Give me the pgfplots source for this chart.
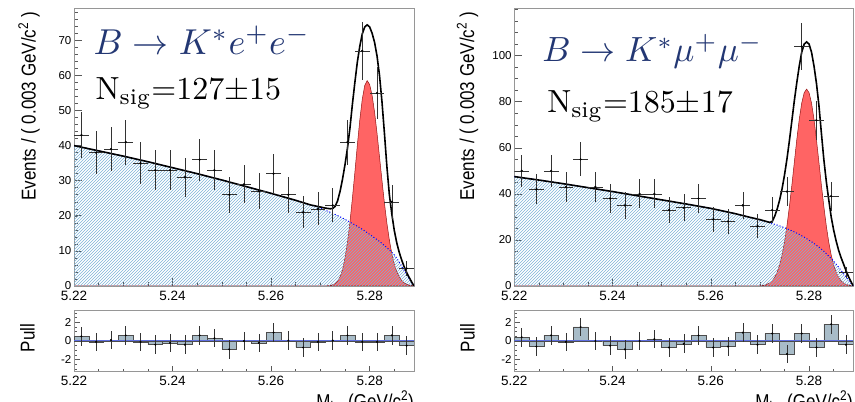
\documentclass[border=0pt]{standalone}
\usepackage{fontspec}
\usepackage{pgfplots}
\pgfplotsset{compat=1.18}
\usepackage{pgfplotstable}
\usetikzlibrary{patterns}
\newfontfamily\arial{Liberation Sans}
\definecolor{sigred}{RGB}{255,100,100}
\definecolor{sigdark}{RGB}{150,20,20}
\definecolor{hatchblue}{RGB}{125,178,215}
\definecolor{pullfill}{RGB}{168,188,200}
\definecolor{pullline}{RGB}{95,110,225}
\definecolor{titleblue}{RGB}{35,55,115}
\definecolor{framegray}{RGB}{150,150,150}

\pgfplotstableread[row sep=\\]{x y\\
5.2200 40.0\\ 5.2250 38.5\\ 5.2300 37.0\\ 5.2350 35.4\\ 5.2400 33.7\\ 5.2450 32.0\\ 5.2500 30.2\\ 5.2550 28.3\\ 5.2600 26.4\\ 5.2650 24.4\\ 5.2680 23.1\\ 5.2700 22.2\\ 5.2710 21.6\\ 5.2720 21.0\\ 5.2730 20.4\\ 5.2740 19.7\\ 5.2750 19.0\\ 5.2760 18.2\\ 5.2770 17.4\\ 5.2780 16.6\\ 5.2790 15.7\\ 5.2800 14.7\\ 5.2810 13.7\\ 5.2820 12.7\\ 5.2830 11.5\\ 5.2840 10.3\\ 5.2850 8.9\\ 5.2855 7.9\\ 5.2860 6.8\\ 5.2865 5.7\\ 5.2870 4.5\\ 5.2875 3.3\\ 5.2880 2.1\\ 5.2885 1.0\\ 5.2890 0.0\\
}\bkgL

\pgfplotstableread[row sep=\\]{x y\\
5.2200 40.0\\ 5.2250 38.5\\ 5.2300 37.0\\ 5.2350 35.4\\ 5.2400 33.7\\ 5.2450 32.0\\ 5.2500 30.2\\ 5.2550 28.3\\ 5.2600 26.4\\ 5.2650 24.4\\ 5.2680 23.1\\
5.2700 22.5\\ 5.2710 22.2\\ 5.2720 22.0\\ 5.2725 22.1\\ 5.2730 22.7\\ 5.2735 24.3\\ 5.2740 27.0\\ 5.2745 30.5\\ 5.2750 34.6\\ 5.2755 39.3\\ 5.2760 45.0\\ 5.2765 51.8\\ 5.2770 58.0\\ 5.2775 63.8\\ 5.2780 68.3\\ 5.2785 71.8\\ 5.2790 73.8\\ 5.2795 74.4\\ 5.2800 73.8\\ 5.2805 72.0\\ 5.2810 69.4\\ 5.2815 65.5\\ 5.2820 60.0\\ 5.2825 52.5\\ 5.2830 43.5\\ 5.2835 34.0\\ 5.2840 26.0\\ 5.2845 20.5\\ 5.2850 15.8\\ 5.2855 12.3\\ 5.2860 9.6\\ 5.2865 7.4\\ 5.2870 5.5\\ 5.2875 3.9\\ 5.2880 2.5\\ 5.2885 1.2\\ 5.2890 0.0\\
}\totL

\pgfplotstableread[row sep=\\]{x y\\
5.2200 0\\ 5.2690 0\\ 5.2700 0.01\\ 5.2710 0.04\\ 5.2720 0.15\\ 5.2725 0.35\\ 5.2730 0.7\\ 5.2735 1.4\\ 5.2740 2.6\\ 5.2745 4.6\\ 5.2750 8.0\\ 5.2755 12.5\\ 5.2760 18.2\\ 5.2765 25.0\\ 5.2770 32.4\\ 5.2775 40.1\\ 5.2780 47.3\\ 5.2785 53.2\\ 5.2790 57.1\\ 5.2795 58.5\\ 5.2800 57.4\\ 5.2805 54.3\\ 5.2810 49.5\\ 5.2815 43.5\\ 5.2820 36.8\\ 5.2825 30.1\\ 5.2830 23.6\\ 5.2835 17.9\\ 5.2840 13.1\\ 5.2845 9.2\\ 5.2850 6.2\\ 5.2855 4.1\\ 5.2860 2.6\\ 5.2865 1.6\\ 5.2870 0.9\\ 5.2875 0.5\\ 5.2880 0.3\\ 5.2885 0.15\\ 5.2890 0.07\\
}\sigL

\pgfplotstableread[row sep=\\]{x y ex ey\\
5.2215 43 0.0015 6.56\\ 5.2245 38 0.0015 6.16\\ 5.2275 39 0.0015 6.24\\ 5.2305 41 0.0015 6.40\\ 5.2335 35 0.0015 5.92\\ 5.2365 33 0.0015 5.74\\ 5.2395 33 0.0015 5.74\\ 5.2425 31 0.0015 5.57\\ 5.2455 36 0.0015 6.00\\ 5.2485 33 0.0015 5.74\\ 5.2515 26 0.0015 5.10\\ 5.2545 29 0.0015 5.39\\ 5.2575 27 0.0015 5.20\\ 5.2605 32 0.0015 5.66\\ 5.2635 26 0.0015 5.10\\ 5.2665 21 0.0015 4.58\\ 5.2695 22 0.0015 4.69\\ 5.2725 23 0.0015 4.80\\ 5.2755 41 0.0015 6.40\\ 5.2785 67 0.0015 8.19\\ 5.2815 55 0.0015 7.42\\ 5.2845 24 0.0015 4.90\\ 5.2875 5 0.0015 2.24\\
}\datL

\pgfplotstableread[row sep=\\]{x y\\
5.2215 0.5\\ 5.2245 -0.1\\ 5.2275 0.1\\ 5.2305 0.6\\ 5.2335 -0.1\\ 5.2365 -0.4\\ 5.2395 -0.2\\ 5.2425 -0.4\\ 5.2455 0.6\\ 5.2485 0.3\\ 5.2515 -0.9\\ 5.2545 0.0\\ 5.2575 -0.2\\ 5.2605 0.9\\ 5.2635 0.05\\ 5.2665 -0.7\\ 5.2695 -0.1\\ 5.2725 0.05\\ 5.2755 0.6\\ 5.2785 -0.1\\ 5.2815 -0.1\\ 5.2845 0.6\\ 5.2875 -0.5\\
}\pullL

\pgfplotstableread[row sep=\\]{x y\\
5.2200 47.5\\ 5.2250 46.0\\ 5.2300 44.4\\ 5.2350 42.7\\ 5.2400 41.0\\ 5.2450 39.2\\ 5.2500 37.4\\ 5.2550 35.6\\ 5.2600 33.7\\ 5.2650 31.4\\ 5.2680 29.8\\ 5.2700 28.7\\ 5.2710 28.1\\ 5.2720 27.5\\ 5.2730 26.8\\ 5.2740 26.1\\ 5.2750 25.3\\ 5.2760 24.4\\ 5.2770 23.5\\ 5.2780 22.4\\ 5.2790 21.2\\ 5.2800 19.9\\ 5.2810 18.5\\ 5.2820 16.9\\ 5.2830 15.1\\ 5.2840 13.0\\ 5.2850 10.8\\ 5.2860 8.2\\ 5.2870 5.4\\ 5.2880 2.6\\ 5.2890 0.0\\
}\bkgR

\pgfplotstableread[row sep=\\]{x y\\
5.2200 47.5\\ 5.2250 46.0\\ 5.2300 44.4\\ 5.2350 42.7\\ 5.2400 41.0\\ 5.2450 39.2\\ 5.2500 37.4\\ 5.2550 35.6\\ 5.2600 33.7\\ 5.2650 31.4\\ 5.2680 29.8\\
5.2700 28.8\\ 5.2710 28.2\\ 5.2720 27.6\\ 5.2725 28.0\\ 5.2730 30.3\\ 5.2735 33.4\\ 5.2740 37.3\\ 5.2745 42.2\\ 5.2750 48.2\\ 5.2755 55.2\\ 5.2760 63.2\\ 5.2765 71.8\\ 5.2770 80.5\\ 5.2775 88.3\\ 5.2780 95.5\\ 5.2785 101.5\\ 5.2790 105.0\\ 5.2795 106.0\\ 5.2800 105.0\\ 5.2805 101.5\\ 5.2810 95.5\\ 5.2815 88.0\\ 5.2820 78.5\\ 5.2825 66.5\\ 5.2830 55.0\\ 5.2835 45.5\\ 5.2840 37.5\\ 5.2845 30.0\\ 5.2850 24.3\\ 5.2855 19.6\\ 5.2860 15.6\\ 5.2865 12.4\\ 5.2870 9.6\\ 5.2875 6.8\\ 5.2880 4.2\\ 5.2885 2.0\\ 5.2890 0.0\\
}\totR

\pgfplotstableread[row sep=\\]{x y\\
5.2200 0\\ 5.2680 0\\ 5.2700 0.11\\ 5.2710 0.41\\ 5.2720 1.33\\ 5.2725 2.28\\ 5.2730 3.75\\ 5.2735 5.97\\ 5.2740 9.12\\ 5.2745 13.5\\ 5.2750 19.1\\ 5.2755 26.2\\ 5.2760 34.6\\ 5.2765 43.9\\ 5.2770 53.8\\ 5.2775 63.6\\ 5.2780 72.4\\ 5.2785 79.4\\ 5.2790 83.9\\ 5.2795 85.5\\ 5.2800 83.9\\ 5.2805 79.4\\ 5.2810 72.4\\ 5.2815 63.6\\ 5.2820 53.8\\ 5.2825 43.9\\ 5.2830 34.6\\ 5.2835 26.2\\ 5.2840 19.1\\ 5.2845 13.5\\ 5.2850 9.12\\ 5.2855 5.97\\ 5.2860 3.75\\ 5.2865 2.28\\ 5.2870 1.33\\ 5.2875 0.75\\ 5.2880 0.41\\ 5.2885 0.21\\ 5.2890 0.11\\
}\sigR

\pgfplotstableread[row sep=\\]{x y ex ey\\
5.2215 50 0.0015 7.07\\ 5.2245 42 0.0015 6.48\\ 5.2275 50 0.0015 7.07\\ 5.2305 43 0.0015 6.56\\ 5.2335 55 0.0015 7.42\\ 5.2365 43 0.0015 6.56\\ 5.2395 38 0.0015 6.16\\ 5.2425 35 0.0015 5.92\\ 5.2455 40 0.0015 6.32\\ 5.2485 40 0.0015 6.32\\ 5.2515 33 0.0015 5.74\\ 5.2545 34 0.0015 5.83\\ 5.2575 38 0.0015 6.16\\ 5.2605 29 0.0015 5.39\\ 5.2635 28 0.0015 5.29\\ 5.2665 35 0.0015 5.92\\ 5.2695 26 0.0015 5.10\\ 5.2725 33 0.0015 5.74\\ 5.2755 41 0.0015 6.40\\ 5.2785 104 0.0015 10.20\\ 5.2815 72 0.0015 8.49\\ 5.2845 39 0.0015 6.24\\ 5.2875 6 0.0015 2.45\\
}\datR

\pgfplotstableread[row sep=\\]{x y\\
5.2215 0.4\\ 5.2245 -0.6\\ 5.2275 0.6\\ 5.2305 -0.1\\ 5.2335 1.5\\ 5.2365 0.0\\ 5.2395 -0.5\\ 5.2425 -0.9\\ 5.2455 0.0\\ 5.2485 0.2\\ 5.2515 -0.7\\ 5.2545 -0.3\\ 5.2575 0.6\\ 5.2605 -0.7\\ 5.2635 -0.6\\ 5.2665 0.9\\ 5.2695 -0.4\\ 5.2725 0.8\\ 5.2755 -1.4\\ 5.2785 0.8\\ 5.2815 -0.7\\ 5.2845 1.8\\ 5.2875 -0.4\\
}\pullR

\pgfplotsset{
  rootstyle/.style={
    scale only axis, xmin=5.22, xmax=5.289, tick align=inside, tick pos=left,
    xtick={5.22,5.24,5.26,5.28}, xticklabels={5.22,5.24,5.26,5.28},
    minor xtick={5.225,5.23,5.235,5.245,5.25,5.255,5.265,5.27,5.275,5.285},
    axis line style={framegray, line width=0.8pt},
    major tick style={black!65, line width=0.6pt},
    minor tick style={black!65, line width=0.5pt},
    major tick length=8pt, minor tick length=4pt,
    xticklabel style={font=\fontsize{13.5}{15}\arial, inner sep=0pt, yshift=-4.5pt},
    yticklabel style={font=\fontsize{11.5}{13}\arial, inner sep=0pt, xshift=-2.5pt},
  },
  pullstyle/.style={rootstyle, ymin=-3.3, ymax=3.25, ytick={-2,0,2}, yticklabels={-2,0,2},
    minor ytick={-3,-2.5,...,3}, major tick length=6pt, minor tick length=3pt},
  datapts/.style={only marks, mark=*, mark size=0.9pt, black,
    error bars/.cd, x dir=both, x explicit, y dir=both, y explicit,
    error bar style={line width=0.5pt, black!80}, error mark=none},
  pullpts/.style={only marks, mark=*, mark size=0.8pt, black,
    error bars/.cd, y dir=both, y fixed=1,
    error bar style={line width=0.5pt, black!80}, error mark=none},
}
\tikzset{labelfont/.style={font=\fontsize{20}{22}\arial, inner sep=0pt}}

\begin{document}
\begin{tikzpicture}
\path[use as bounding box] (0,0) rectangle (855pt,402pt);

% ---------- left main ----------
\begin{axis}[rootstyle, at={(74pt,116pt)}, anchor=south west, width=340pt, height=278pt,
  ymin=0, ymax=79.2, ytick={0,10,...,70}, yticklabels={0,10,20,30,40,50,60,70},
  minor ytick={2,4,...,78}]
  \addplot[fill=sigred, draw=sigdark, line width=0.5pt] table {\sigL} \closedcycle;
  \addplot[draw=none, pattern=north east lines, pattern color=hatchblue] table {\bkgL} \closedcycle;
  \addplot[blue, dotted, line width=1pt] table {\bkgL};
  \addplot[black, line width=1.6pt] table {\totL};
  \addplot[datapts] table[x=x, y=y, x error=ex, y error=ey] {\datL};
\end{axis}

% ---------- left pull ----------
\begin{axis}[pullstyle, at={(74pt,30.3pt)}, anchor=south west, width=340pt, height=61pt]
  \addplot[ybar, bar width=0.003, bar shift=0pt, fill=pullfill, draw=black!70, line width=0.4pt] table {\pullL};
  \addplot[pullline, line width=1pt] coordinates {(5.22,0) (5.289,0)};
  \addplot[pullpts] table {\pullL};
\end{axis}

% ---------- right main ----------
\begin{axis}[rootstyle, at={(514.3pt,116pt)}, anchor=south west, width=339pt, height=278pt,
  ymin=0, ymax=120.7, ytick={0,20,...,100}, yticklabels={0,20,40,60,80,100},
  minor ytick={5,10,...,120}]
  \addplot[fill=sigred, draw=sigdark, line width=0.5pt] table {\sigR} \closedcycle;
  \addplot[draw=none, pattern=north east lines, pattern color=hatchblue] table {\bkgR} \closedcycle;
  \addplot[blue, dotted, line width=1pt] table {\bkgR};
  \addplot[black, line width=1.6pt] table {\totR};
  \addplot[datapts] table[x=x, y=y, x error=ex, y error=ey] {\datR};
\end{axis}

% ---------- right pull ----------
\begin{axis}[pullstyle, at={(514.3pt,30.3pt)}, anchor=south west, width=339pt, height=61pt]
  \addplot[ybar, bar width=0.003, bar shift=0pt, fill=pullfill, draw=black!70, line width=0.4pt] table {\pullR};
  \addplot[pullline, line width=1pt] coordinates {(5.22,0) (5.289,0)};
  \addplot[pullpts] table {\pullR};
\end{axis}

% ---------- labels ----------
\node[labelfont, rotate=90, xscale=0.85, anchor=east] at (29pt,390pt) {Events / ( 0.003 GeV/c\textsuperscript{2} )};
\node[labelfont, rotate=90, xscale=0.85, anchor=east] at (467.5pt,390pt) {Events / ( 0.003 GeV/c\textsuperscript{2} )};
\node[labelfont, rotate=90, xscale=0.85] at (27.5pt,64pt) {Pull};
\node[labelfont, rotate=90, xscale=0.85] at (467.5pt,64pt) {Pull};
\node[labelfont, xscale=0.85, anchor=north east] at (414pt,11pt) {M\textsubscript{bc} (GeV/c\textsuperscript{2})};
\node[labelfont, xscale=0.85, anchor=north east] at (853pt,11pt) {M\textsubscript{bc} (GeV/c\textsuperscript{2})};

\node[anchor=base west, inner sep=0pt, text=titleblue, font=\fontsize{10}{12}\selectfont, scale=3.6] at (93pt,347pt) {$B\rightarrow K^{*}e^{+}e^{-}$};
\node[anchor=base west, inner sep=0pt, font=\fontsize{10}{12}\selectfont, scale=3.2] at (95pt,302pt) {N$_{\mathrm{sig}}$=127$\pm$15};
\node[anchor=base west, inner sep=0pt, text=titleblue, font=\fontsize{10}{12}\selectfont, scale=3.5] at (541.7pt,340pt) {$B\rightarrow K^{*}\mu^{+}\mu^{-}$};
\node[anchor=base west, inner sep=0pt, font=\fontsize{10}{12}\selectfont, scale=3.2] at (546.7pt,289pt) {N$_{\mathrm{sig}}$=185$\pm$17};
\end{tikzpicture}
\end{document}
